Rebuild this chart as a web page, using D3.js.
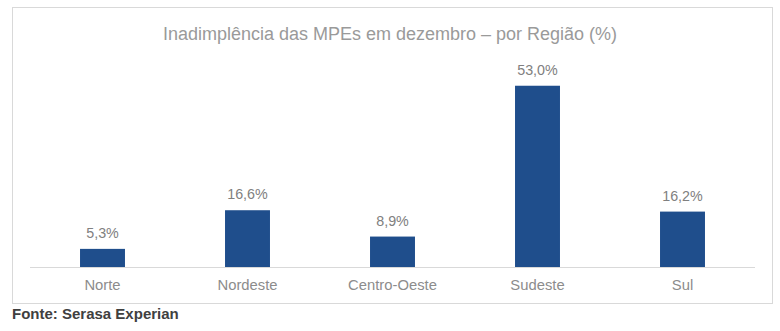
<!DOCTYPE html>
<html><head><meta charset="utf-8">
<script src="https://cdn.jsdelivr.net/npm/d3@7"></script>
<style>body{margin:0;background:#fff;}svg{display:block;}</style>
</head><body>
<svg id="c" width="780" height="331"></svg>
<script>
const categories = ["Norte","Nordeste","Centro-Oeste","Sudeste","Sul"];
const values = [5.3,16.6,8.9,53.0,16.2];
const valueLabels = ["5,3%","16,6%","8,9%","53,0%","16,2%"];
const title = "Inadimplência das MPEs em dezembro – por Região (%)";
const source = "Fonte: Serasa Experian";

const svg = d3.select("#c");
const font = "Arial, 'Liberation Sans', sans-serif";
svg.append("rect").attr("x",12.5).attr("y",7.5).attr("width",760).attr("height",296)
  .attr("fill","#fff").attr("stroke","#d9d9d9").attr("stroke-width",1);

const x = d3.scaleBand().domain(categories).range([30,755]).paddingInner(0.69).paddingOuter(0.345);
const y = d3.scaleLinear().domain([0,60]).range([267,267-60*3.42]);

svg.append("text").attr("x",390).attr("y",40).attr("text-anchor","middle")
  .attr("font-family",font).attr("font-size",18).attr("fill","#9a9a9a").text(title);

svg.selectAll("rect.bar").data(values).join("rect").attr("class","bar")
  .attr("x",(d,i)=>x(categories[i])).attr("width",x.bandwidth())
  .attr("y",d=>y(d)).attr("height",d=>y(0)-y(d)).attr("fill","#1f4e8c");

svg.selectAll("text.vl").data(values).join("text").attr("class","vl")
  .attr("x",(d,i)=>x(categories[i])+x.bandwidth()/2).attr("y",d=>y(d)-11)
  .attr("text-anchor","middle").attr("font-family",font).attr("font-size",14.3)
  .attr("fill","#808080").text((d,i)=>valueLabels[i]);

const ax = svg.append("g").attr("transform","translate(0,267)").call(d3.axisBottom(x).tickSize(0).tickPadding(12));
ax.select(".domain").attr("stroke","#d9d9d9").attr("d","M30,0.5H755");
ax.selectAll("text").attr("font-family",font).attr("font-size",14.8).attr("fill","#8c8c8c");

svg.append("text").attr("x",12).attr("y",319).attr("font-family",font).attr("font-size",15)
  .attr("font-weight","bold").attr("fill","#404040").text(source);
</script>
</body></html>
